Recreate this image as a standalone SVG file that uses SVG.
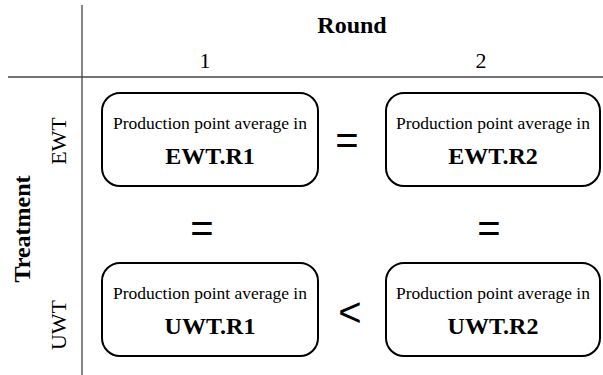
<svg xmlns="http://www.w3.org/2000/svg" width="603" height="375" viewBox="0 0 603 375">
<style>
.box{fill:#fff;stroke:#000;stroke-width:2}
.ln{stroke:#444;stroke-width:1.3}
.t{font-family:"Liberation Serif","Times New Roman",serif;fill:#000}
.sm{font-size:17.5px;text-anchor:middle}
.bd{font-size:24px;font-weight:bold;text-anchor:middle}
.hd{font-size:22px;text-anchor:middle}
.op{font-family:"Liberation Sans",Arial,sans-serif;font-size:40px;text-anchor:middle;fill:#000}
</style>
<rect width="603" height="375" fill="#fff"/>
<g id="axes">
<line class="ln" x1="82" y1="5" x2="82" y2="375"/>
<line class="ln" x1="8" y1="77" x2="603" y2="77"/>
</g>
<g id="headers">
<text class="t bd" x="352" y="33">Round</text>
<text class="t hd" x="205" y="68">1</text>
<text class="t hd" x="481" y="68">2</text>
<text class="t bd" transform="translate(30,229) rotate(-90)">Treatment</text>
<text class="t hd" transform="translate(66,141) rotate(-90)">EWT</text>
<text class="t hd" transform="translate(66,325) rotate(-90)">UWT</text>
</g>
<g id="ewt-r1">
<rect class="box" x="102" y="93" width="216" height="93" rx="18"/>
<text class="t sm" x="210" y="129">Production point average in</text>
<text class="t bd" x="210" y="164">EWT.R1</text>
</g>
<g id="ewt-r2">
<rect class="box" x="386" y="93" width="214" height="93" rx="18"/>
<text class="t sm" x="493" y="129">Production point average in</text>
<text class="t bd" x="493" y="164">EWT.R2</text>
</g>
<g id="uwt-r1">
<rect class="box" x="102" y="263" width="216" height="93" rx="18"/>
<text class="t sm" x="210" y="299">Production point average in</text>
<text class="t bd" x="210" y="334">UWT.R1</text>
</g>
<g id="uwt-r2">
<rect class="box" x="386" y="263" width="214" height="93" rx="18"/>
<text class="t sm" x="493" y="299">Production point average in</text>
<text class="t bd" x="493" y="334">UWT.R2</text>
</g>
<g id="connectors">
<text class="op" x="347" y="154">=</text>
<text class="op" x="202" y="242">=</text>
<text class="op" x="489" y="242">=</text>
<text class="op" x="350" y="326">&lt;</text>
</g>
</svg>
